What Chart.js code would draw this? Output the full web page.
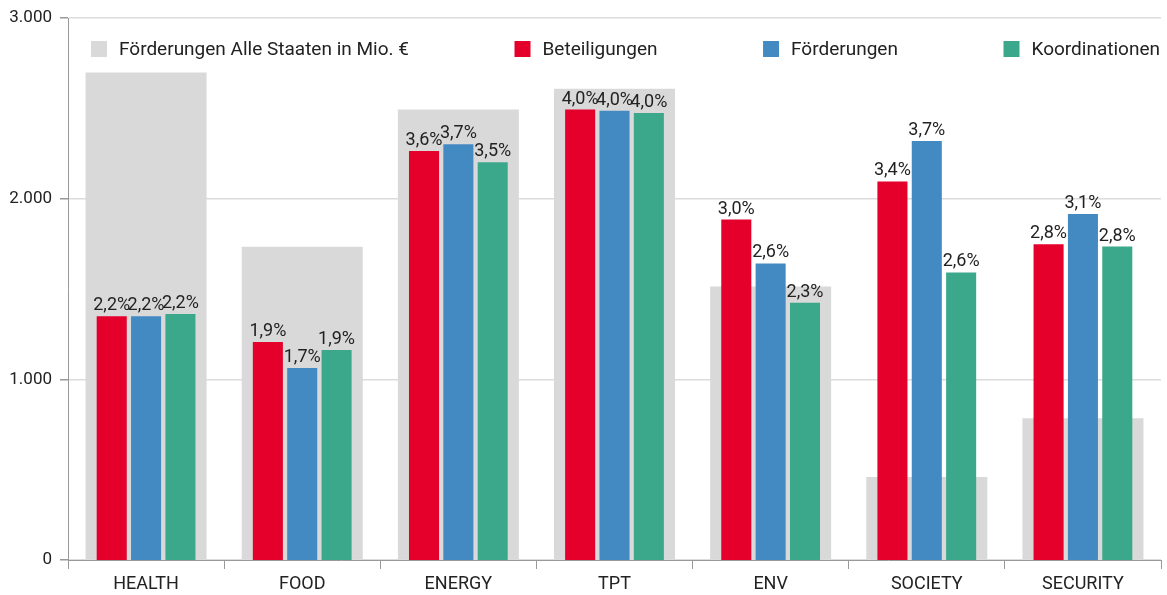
<!DOCTYPE html>
<html>
<head>
<meta charset="utf-8">
<script src="https://cdn.jsdelivr.net/npm/chart.js@4.4.1/dist/chart.umd.min.js"></script>
<style>
  html, body { margin: 0; padding: 0; background: #fff; }
  #wrap { width: 1167px; height: 595px; position: relative; }
</style>
</head>
<body>
<div id="wrap"><canvas id="c" width="1167" height="595"></canvas></div>
<script>
const categories = ['HEALTH', 'FOOD', 'ENERGY', 'TPT', 'ENV', 'SOCIETY', 'SECURITY'];
const foerderungenAlleStaaten = [2700, 1735, 2495, 2610, 1515, 460, 785];
const beteiligungenPct = [2.17, 1.94, 3.64, 4.01, 3.03, 3.37, 2.81];
const foerderungenPct = [2.17, 1.71, 3.70, 4.00, 2.64, 3.73, 3.08];
const koordinationenPct = [2.19, 1.87, 3.54, 3.98, 2.29, 2.56, 2.79];
const yTicks = [0, 1000, 2000, 3000];
const seriesLabels = ['Förderungen Alle Staaten in Mio. €', 'Beteiligungen', 'Förderungen', 'Koordinationen'];

const FONT = 'Roboto';
const TEXT = '#222222';
const COLORS = ['#d9d9d9', '#e4002b', '#448ac2', '#3ba88c'];
const PCT_MAX = 4.823;

const fmtPct = v => v.toFixed(1).replace('.', ',') + '%';

const valueLabels = {
  id: 'valueLabels',
  afterDatasetsDraw(chart) {
    const ctx = chart.ctx;
    ctx.save();
    ctx.font = '18px ' + FONT;
    ctx.fillStyle = TEXT;
    ctx.textAlign = 'center';
    ctx.textBaseline = 'alphabetic';
    chart.data.datasets.forEach((ds, di) => {
      if (!ds.showValues) return;
      const meta = chart.getDatasetMeta(di);
      meta.data.forEach((bar, i) => {
        ctx.fillText(fmtPct(ds.data[i]), bar.x, bar.y - 6);
      });
    });
    ctx.restore();
  }
};

const insideLegend = {
  id: 'insideLegend',
  afterDraw(chart) {
    const ctx = chart.ctx;
    const area = chart.chartArea;
    ctx.save();
    ctx.font = '19px ' + FONT;
    const box = 16, gapText = 12;
    const widths = seriesLabels.map(t => box + gapText + ctx.measureText(t).width);
    const start = area.left + 23, end = area.right - 1;
    const total = widths.reduce((a, b) => a + b, 0);
    const gap = (end - start - total) / (widths.length - 1);
    let x = start;
    const yTop = 41;
    seriesLabels.forEach((t, i) => {
      ctx.fillStyle = COLORS[i];
      ctx.fillRect(x, yTop, box, box);
      ctx.fillStyle = TEXT;
      ctx.textBaseline = 'middle';
      ctx.textAlign = 'left';
      ctx.fillText(t, x + box + gapText, yTop + box / 2 + 1);
      x += widths[i] + gap;
    });
    ctx.restore();
  }
};

new Chart(document.getElementById('c'), {
  type: 'bar',
  data: {
    labels: categories,
    datasets: [
      {
        label: seriesLabels[0],
        data: foerderungenAlleStaaten,
        backgroundColor: COLORS[0],
        yAxisID: 'y',
        grouped: false,
        categoryPercentage: 1,
        barPercentage: 0.775,
        order: 1
      },
      {
        label: seriesLabels[1],
        data: beteiligungenPct,
        backgroundColor: COLORS[1],
        yAxisID: 'yPct',
        categoryPercentage: 0.66,
        barPercentage: 0.875,
        order: 0,
        showValues: true
      },
      {
        label: seriesLabels[2],
        data: foerderungenPct,
        backgroundColor: COLORS[2],
        yAxisID: 'yPct',
        categoryPercentage: 0.66,
        barPercentage: 0.875,
        order: 0,
        showValues: true
      },
      {
        label: seriesLabels[3],
        data: koordinationenPct,
        backgroundColor: COLORS[3],
        yAxisID: 'yPct',
        categoryPercentage: 0.66,
        barPercentage: 0.875,
        order: 0,
        showValues: true
      }
    ]
  },
  options: {
    responsive: false,
    animation: false,
    devicePixelRatio: 1,
    layout: { padding: { left: 0, right: 6, top: 18, bottom: 0 } },
    plugins: {
      legend: { display: false },
      tooltip: { enabled: false }
    },
    scales: {
      x: {
        type: 'category',
        offset: true,
        grid: {
          offset: true,
          drawOnChartArea: false,
          drawTicks: true,
          tickLength: 9,
          color: '#999999',
          tickColor: '#999999'
        },
        border: { display: true, color: '#999999', width: 1 },
        ticks: {
          color: TEXT,
          font: { family: FONT, size: 18 },
          padding: 5,
          maxRotation: 0
        },
        afterFit(scale) { scale.height = 35; }
      },
      y: {
        position: 'left',
        min: 0,
        max: 3000,
        afterBuildTicks(scale) { scale.ticks = yTicks.map(v => ({ value: v })); },
        grid: {
          color: '#dcdcdc',
          lineWidth: 1.5,
          drawTicks: true,
          tickLength: 8,
          tickColor: '#999999'
        },
        border: { display: true, color: '#999999', width: 1 },
        ticks: {
          color: TEXT,
          font: { family: FONT, size: 17 },
          padding: 8,
          callback: v => v.toLocaleString('de-DE')
        },
        afterFit(scale) { scale.width = 68; }
      },
      yPct: {
        display: false,
        min: 0,
        max: PCT_MAX,
        grid: { drawOnChartArea: false }
      }
    }
  },
  plugins: [valueLabels, insideLegend]
});
</script>
</body>
</html>
